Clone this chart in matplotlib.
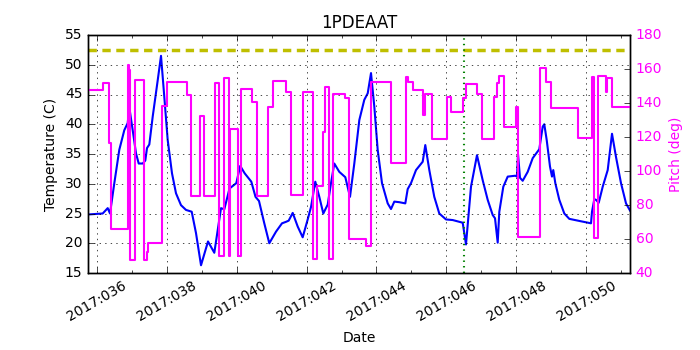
import matplotlib
matplotlib.use('Agg')
import matplotlib.pyplot as plt
from matplotlib.ticker import MultipleLocator, FuncFormatter

plt.style.use('classic')
plt.rcParams['font.size'] = 10

# Temperature (1PDEAAT, degC) vs day-of-year 2017
temp_day = [35.794, 36.177, 36.32, 36.386, 36.509, 36.651, 36.794, 36.891, 36.937,
            37.034, 37.129, 37.206, 37.32, 37.394, 37.443, 37.509, 37.606, 37.749,
            37.843, 37.937, 38.034, 38.157, 38.271, 38.414, 38.557, 38.72, 38.843,
            38.986, 39.186, 39.366, 39.557, 39.651, 39.80, 39.994, 40.106, 40.234,
            40.423, 40.543, 40.643, 40.794, 40.937, 41.129, 41.30, 41.414, 41.491,
            41.606, 41.749, 41.891, 42.034, 42.129, 42.251, 42.366, 42.48, 42.606,
            42.70, 42.794, 42.937, 43.109, 43.243, 43.366, 43.509, 43.651, 43.749,
            43.843, 43.937, 44.034, 44.157, 44.32, 44.414, 44.509, 44.651, 44.823,
            44.891, 44.986, 45.129, 45.32, 45.394, 45.509, 45.651, 45.794, 45.986,
            46.177, 46.463, 46.557, 46.70, 46.871, 47.034, 47.177, 47.32, 47.386,
            47.463, 47.509, 47.623, 47.749, 47.966, 48.014, 48.043, 48.10, 48.177,
            48.32, 48.463, 48.651, 48.749, 48.794, 48.863, 48.957, 49.014, 49.051,
            49.109, 49.223, 49.366, 49.509, 49.794, 50.129, 50.157, 50.223, 50.271,
            50.349, 50.463, 50.606, 50.729, 50.843, 50.986, 51.129, 51.243]
temp_val = [24.85, 25.0, 25.9, 25.0, 30.1, 35.7, 39.0, 40.2, 42.85,
            39.0, 35.1, 33.4, 33.4, 33.9, 36.0, 36.6, 41.3, 47.4,
            51.5, 44.6, 37.35, 31.75, 28.4, 26.4, 25.6, 25.3, 21.7,
            16.3, 20.3, 18.4, 25.9, 25.7, 29.2, 30.1, 33.0, 31.75,
            30.35, 27.8, 27.1, 23.35, 20.0, 21.95, 23.35, 23.6, 23.8,
            25.1, 22.8, 21.0, 24.0, 26.1, 30.35, 27.8, 25.0, 26.5,
            30.1, 33.4, 32.0, 31.1, 27.8, 33.4, 40.7, 44.1, 45.2,
            48.6, 43.0, 35.7, 30.1, 26.7, 25.75, 27.0, 26.9, 26.7,
            29.1, 30.1, 32.3, 33.7, 36.5, 32.3, 27.8, 25.0, 24.0,
            23.9, 23.45, 19.8, 29.5, 34.8, 30.6, 27.3, 24.75, 24.2,
            20.1, 25.3, 29.5, 31.2, 31.35, 31.2, 35.0, 31.0, 30.5,
            32.0, 34.3, 35.8, 39.6, 40.0, 37.35, 32.9, 31.2, 32.3,
            30.1, 27.3, 25.0, 24.1, 23.75, 23.35, 25.3, 27.4, 27.3,
            26.8, 29.5, 32.3, 38.4, 34.5, 30.1, 26.7, 25.5]

# Pitch (deg): start day of each constant segment and its value
pitch_day = [35.757, 36.197, 36.349, 36.400, 36.886, 36.923, 36.957, 37.114, 37.371,
             37.429, 37.480, 37.871, 38.000, 38.586, 38.709, 38.966, 39.080, 39.380,
             39.509, 39.649, 39.786, 39.814, 40.034, 40.123, 40.429, 40.577, 40.886,
             41.034, 41.414, 41.557, 41.886, 42.186, 42.300, 42.463, 42.529, 42.634,
             42.749, 43.109, 43.206, 43.714, 43.834, 44.423, 44.843, 44.891, 45.051,
             45.320, 45.391, 45.591, 46.009, 46.123, 46.471, 46.543, 46.877, 47.014,
             47.371, 47.429, 47.486, 47.629, 47.980, 48.043, 48.671, 48.843, 48.986,
             49.749, 50.149, 50.206, 50.329, 50.563, 50.591, 50.720, 51.243]
pitch_val = [147.5, 152.0, 116.3, 65.7, 162.4, 159.5, 47.6, 153.5, 47.6,
             52.5, 57.5, 138.2, 152.6, 144.7, 85.2, 132.4, 85.2, 151.6,
             50.0, 154.9, 50.0, 124.5, 50.0, 148.1, 140.8, 85.5, 137.8,
             153.1, 146.7, 86.1, 146.3, 48.4, 91.2, 123.1, 149.6, 48.4,
             145.3, 142.7, 59.8, 55.9, 152.4, 104.5, 155.1, 152.6, 147.5,
             132.9, 145.3, 118.6, 143.3, 134.9, 142.7, 151.0, 145.1, 119.0,
             143.3, 151.6, 155.7, 126.1, 137.5, 61.4, 160.4, 152.6, 136.9,
             119.2, 155.1, 60.4, 156.1, 146.7, 154.9, 137.8, 137.8]

planning_limit = 52.5
marker_day = 46.49
x_range = (35.757, 51.243)
temp_range = (15, 55)
pitch_range = (40, 180)

fig = plt.figure(figsize=(7, 3.5), dpi=100, facecolor='white')
ax = fig.add_axes([88 / 700, 77 / 350, 542 / 700, 238 / 350])
ax.plot(temp_day, temp_val, color='b', lw=1.5)
ax.axhline(planning_limit, color='y', ls='--', lw=2.5, dashes=(6, 4))
ax.axvline(marker_day, color='g', ls=':', lw=1.5)
ax.set_xlim(*x_range)
ax.set_ylim(*temp_range)
ax.xaxis.set_major_locator(MultipleLocator(2))
ax.xaxis.set_minor_locator(MultipleLocator(1))
ax.xaxis.set_major_formatter(FuncFormatter(lambda v, p: "2017:%03d" % int(round(v))))
ax.yaxis.set_major_locator(MultipleLocator(5))
ax.grid(True, which='major')
for lbl in ax.get_xticklabels():
    lbl.set_rotation(30)
    lbl.set_ha('center')
ax.tick_params(axis='x', pad=4)
ax.set_title('1PDEAAT', fontsize=12)
ax.set_xlabel('Date')
ax.set_ylabel('Temperature (C)')

ax2 = ax.twinx()
ax2.step(pitch_day, pitch_val, where='post', color='magenta', lw=1.5)
ax2.set_xlim(*x_range)
ax2.set_ylim(*pitch_range)
ax2.yaxis.set_major_locator(MultipleLocator(20))
ax2.tick_params(axis='y', labelcolor='magenta')
ax2.set_ylabel('Pitch (deg)', color='magenta')

fig.savefig('out.png', dpi=100, facecolor='white')
